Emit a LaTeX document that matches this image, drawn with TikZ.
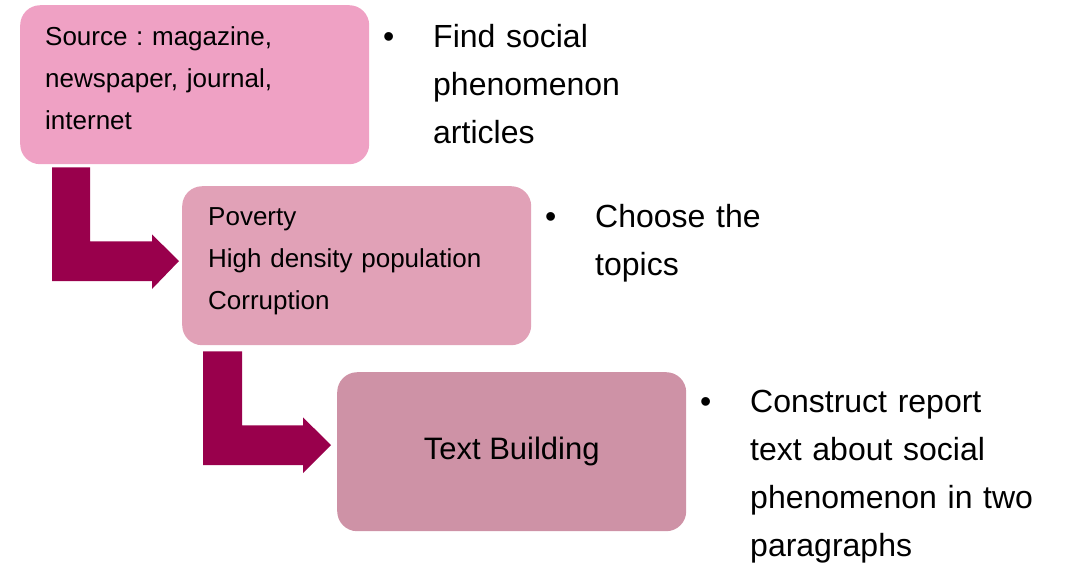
\documentclass[tikz,border=0pt]{standalone}
\usepackage{fontspec}
\setmainfont{Liberation Sans}
\usetikzlibrary{calc}
\definecolor{boxA}{RGB}{239,161,196}
\definecolor{boxB}{RGB}{225,161,183}
\definecolor{boxC}{RGB}{206,146,166}
\definecolor{arrowc}{RGB}{153,0,76}
\frenchspacing
\begin{document}
\begin{tikzpicture}[x=1pt,y=-1pt,
  box/.style={rounded corners=20pt, minimum width=349pt, minimum height=159pt,
    anchor=north west, inner sep=0pt},
  smalltext/.style={anchor=base west, inner sep=0pt, align=left, text width=320pt,
    font=\fontsize{26}{42}\selectfont},
  bigtext/.style={anchor=base west, inner sep=0pt, align=left, text width=310pt,
    font=\fontsize{32}{48}\selectfont},
  bul/.style={anchor=base west, inner sep=0pt, font=\fontsize{32}{36}\selectfont},
  bentarrow/.style={fill=arrowc, draw=none}]
\useasboundingbox (0,0) rectangle (1065,566);
% boxes
\node[box, fill=boxA] (src) at (20,5) {};
\node[box, fill=boxB] (topics) at (182,186) {};
\node[box, fill=boxC, font=\fontsize{31}{37}\selectfont] (build) at (337,372) {Text Building};
% box texts
\node[smalltext] (srctext) at ($(src.north west)+(25,40)$) {Source : magazine,\\newspaper, journal,\\internet};
\node[smalltext] (topicstext) at ($(topics.north west)+(26,39)$) {Poverty\\High density population\\Corruption};
% bullets and side texts
\node[bul] (b1) at (383,47) {•};
\node[bigtext] (t1) at (433,47) {Find social\\phenomenon\\articles};
\node[bul] (b2) at (545,227) {•};
\node[bigtext] (t2) at (595,227) {Choose the\\topics};
\node[bul] (b3) at (700,412) {•};
\node[bigtext] (t3) at (750,412) {Construct report\\text about social\\phenomenon in two\\paragraphs};
% bent arrows
\coordinate (a1tip) at ($(topics.north west)+(-3,75)$);
\fill[bentarrow] ($(src.south west)+(32,3)$) -- ++(38,0) -- ++(0,74) -- ++(62,0)
  -- ++(0,-7) -- (a1tip) -- ++(-27,28) -- ++(0,-8) -- ++(-100,0) -- cycle;
\coordinate (a2tip) at ($(build.north west)+(-6,73)$);
\fill[bentarrow] ($(topics.south west)+(21,6)$) -- ++(39,0) -- ++(0,74) -- ++(61,0)
  -- ++(0,-8) -- (a2tip) -- ++(-28,28) -- ++(0,-8) -- ++(-100,0) -- cycle;
\end{tikzpicture}
\end{document}
